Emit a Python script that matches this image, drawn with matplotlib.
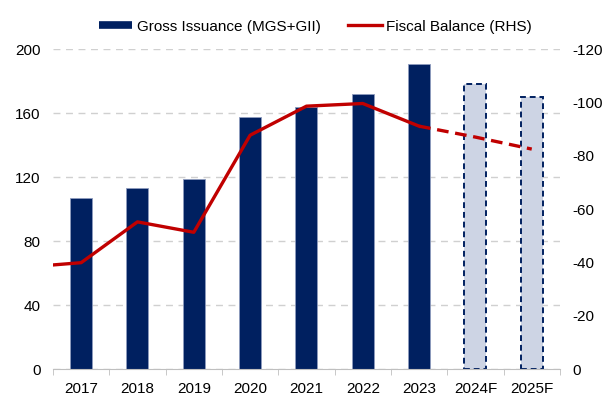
import matplotlib
matplotlib.use("Agg")
import matplotlib.pyplot as plt
from matplotlib.lines import Line2D
import numpy as np

plt.rcParams['font.family'] = ['Liberation Sans', 'DejaVu Sans']
plt.rcParams['font.size'] = 11
plt.rcParams['axes.unicode_minus'] = False

years = ["2017", "2018", "2019", "2020", "2021", "2022", "2023", "2024F", "2025F"]
issuance = [106.7, 112.9, 118.5, 157.3, 163.6, 172.0, 191.0, 178.0, 169.8]
forecast = [False, False, False, False, False, False, False, True, True]

# fiscal balance includes 2016, which sits just off the left edge
fiscal_years = ["2016"] + years
fiscal = [-38.2, -39.9, -55.2, -51.3, -87.7, -98.6, -99.6, -91.1, -87.0, -82.5]

navy = "#002060"
red = "#C00000"
light = "#CDD4E4"
grid = "#D0D0D0"

fig = plt.figure(figsize=(6.04, 3.96), dpi=100)
ax = fig.add_axes([0.0877, 0.068, 0.8393, 0.808])

x = np.arange(len(years))
for xi, val, fc in zip(x, issuance, forecast):
    if fc:
        ax.bar(xi, val, width=0.39, color=light, edgecolor=navy,
               linewidth=1.4, linestyle=(0, (3, 2)), zorder=2)
    else:
        ax.bar(xi, val, width=0.39, color=navy, edgecolor="#8E9BBE",
               linewidth=0.6, zorder=2)

ax.set_xlim(-0.5, len(years) - 0.5)
ax.set_ylim(0, 200)
ax.set_yticks(range(0, 201, 40))
ax.set_xticks(x)
ax.set_xticklabels(years)
ax.set_xticks(np.arange(-0.5, len(years), 1), minor=True)
ax.tick_params(axis='x', which='major', length=0, pad=9)
ax.tick_params(axis='x', which='minor', length=4, color="#BFBFBF")
ax.tick_params(axis='y', length=0, pad=9)
ax.yaxis.grid(True, color=grid, linestyle=(0, (5, 4)), linewidth=1)
ax.set_axisbelow(True)
for s in ["left", "right", "top"]:
    ax.spines[s].set_visible(False)
ax.spines["bottom"].set_color("#BFBFBF")

ax2 = ax.twinx()
fx = np.arange(len(fiscal_years)) - 1
n_actual = 8  # 2016..2023
ax2.plot(fx[:n_actual], fiscal[:n_actual], color=red, linewidth=2.4,
         solid_joinstyle='round', zorder=3)
ax2.plot(fx[n_actual - 1:], fiscal[n_actual - 1:], color=red, linewidth=2.4,
         linestyle=(0, (3.5, 2)), zorder=3)
ax2.set_ylim(0, -120)
ax2.set_yticks(range(0, -121, -20))
ax2.tick_params(axis='y', length=0, pad=9)
for s in ["left", "right", "top", "bottom"]:
    ax2.spines[s].set_visible(False)
ax2.set_xlim(-0.5, len(years) - 0.5)

handles = [
    Line2D([0], [0], color=navy, linewidth=5.5, solid_capstyle='butt'),
    Line2D([0], [0], color=red, linewidth=2.4),
]
fig.legend(handles, ["Gross Issuance (MGS+GII)", "Fiscal Balance (RHS)"],
           loc="center", bbox_to_anchor=(0.522, 0.933), ncol=2, frameon=False,
           handlelength=2.2, handletextpad=0.3, columnspacing=1.8)

fig.savefig("out.png", dpi=100)
